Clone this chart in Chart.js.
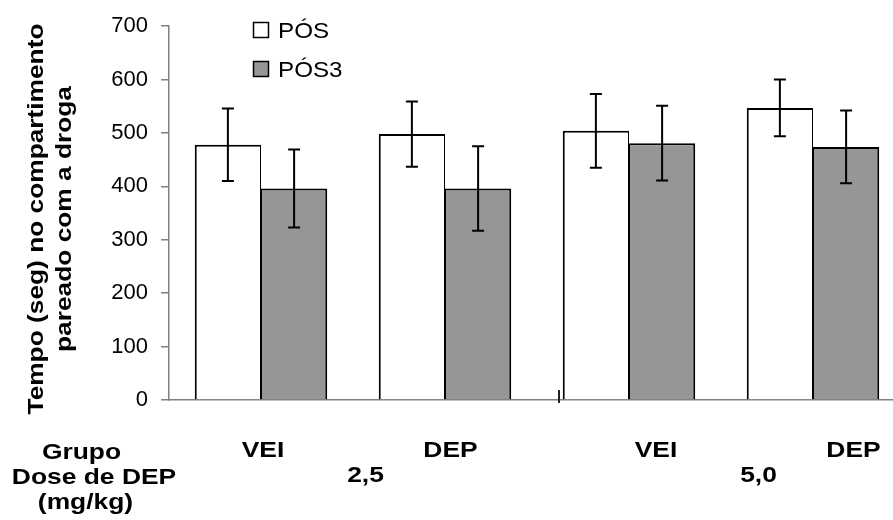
<!DOCTYPE html>
<html>
<head>
<meta charset="utf-8">
<script src="https://cdn.jsdelivr.net/npm/chart.js@4/dist/chart.umd.min.js"></script>
<style>
  html, body { margin: 0; padding: 0; background: #fff; }
  #wrap { width: 893px; height: 520px; overflow: hidden; position: relative; }
  canvas { display: block; }
</style>
</head>
<body>
<div id="wrap"><canvas id="c" width="905" height="520"></canvas></div>
<script>
// Group labels and series values
const categories = ['VEI', 'DEP', 'VEI', 'DEP'];
const doseLabels = ['2,5', '5,0'];
const posValues = [478, 498, 504, 547];
const posErrors = [68, 61, 69, 53];
const pos3Values = [396, 396, 481, 474];
const pos3Errors = [73, 79, 70, 68];
const seriesNames = ['PÓS', 'PÓS3'];
const yTicks = [0, 100, 200, 300, 400, 500, 600, 700];
const yTitleLines = ['Tempo (seg) no compartimento', 'pareado com a droga'];
const rowTitles = ['Grupo', 'Dose de DEP', '(mg/kg)'];

const FONT = '"Liberation Sans", Arial, sans-serif';
const FILLS = ['#ffffff', '#969696'];
const AXIS = '#808080';

// text drawn with a slight horizontal stretch
function wideText(ctx, text, x, y, font, sx, align) {
  ctx.save();
  ctx.font = font;
  ctx.fillStyle = '#000';
  ctx.textAlign = align || 'center';
  ctx.textBaseline = 'alphabetic';
  ctx.translate(x, y);
  ctx.scale(sx, 1);
  ctx.fillText(text, 0, 0);
  ctx.restore();
}

const errorBars = {
  id: 'errorBars',
  afterDatasetsDraw(chart) {
    const ctx = chart.ctx;
    const y = chart.scales.y;
    const errs = [posErrors, pos3Errors];
    chart.data.datasets.forEach((ds, di) => {
      const meta = chart.getDatasetMeta(di);
      meta.data.forEach((bar, i) => {
        const v = ds.data[i];
        const top = y.getPixelForValue(v + errs[di][i]);
        const bot = y.getPixelForValue(v - errs[di][i]);
        ctx.save();
        ctx.strokeStyle = '#000';
        ctx.lineWidth = 2;
        ctx.beginPath();
        ctx.moveTo(bar.x, top); ctx.lineTo(bar.x, bot);
        ctx.moveTo(bar.x - 6, top); ctx.lineTo(bar.x + 6, top);
        ctx.moveTo(bar.x - 6, bot); ctx.lineTo(bar.x + 6, bot);
        ctx.stroke();
        ctx.restore();
      });
    });
  }
};

const decorations = {
  id: 'decorations',
  afterDraw(chart) {
    const ctx = chart.ctx;
    const y = chart.scales.y;
    const bold = 'bold 22px ' + FONT;

    // divider mark between the two dose groups
    const firstBar = chart.getDatasetMeta(0).data[2];
    const dx = Math.round(firstBar.x - firstBar.width / 2 - 4);
    const base = y.getPixelForValue(0);
    ctx.save();
    ctx.strokeStyle = '#222';
    ctx.lineWidth = 2;
    ctx.beginPath();
    ctx.moveTo(dx, base - 10);
    ctx.lineTo(dx, base + 3);
    ctx.stroke();
    ctx.restore();

    // y-axis title (rotated, two lines)
    const midY = 219;
    ctx.save();
    ctx.translate(43, midY);
    ctx.rotate(-Math.PI / 2);
    wideText(ctx, yTitleLines[0], 0, 0, bold, 1.195);
    ctx.restore();
    ctx.save();
    ctx.translate(71, midY);
    ctx.rotate(-Math.PI / 2);
    wideText(ctx, yTitleLines[1], 0, 0, bold, 1.195);
    ctx.restore();

    // row titles under the axis
    wideText(ctx, rowTitles[0], 81.5, 459, bold, 1.2);
    wideText(ctx, rowTitles[1], 94, 484, bold, 1.2);
    wideText(ctx, rowTitles[2], 85.5, 509, bold, 1.2);

    // group names and doses
    const groupX = [263, 450.5, 656, 853.5];
    categories.forEach((c, i) => wideText(ctx, c, groupX[i], 457, bold, 1.2));
    const doseX = [365.5, 758.5];
    doseLabels.forEach((d, i) => wideText(ctx, d, doseX[i], 482, bold, 1.2));

    // legend
    const rows = [30, 69];
    seriesNames.forEach((name, i) => {
      ctx.save();
      ctx.fillStyle = FILLS[i];
      ctx.strokeStyle = '#000';
      ctx.lineWidth = 1.5;
      ctx.fillRect(253.5, rows[i] - 7.5, 15, 15);
      ctx.strokeRect(253.5, rows[i] - 7.5, 15, 15);
      ctx.restore();
      wideText(ctx, name, 278, rows[i] + 8, '22px ' + FONT, 1.1, 'left');
    });
  }
};

new Chart(document.getElementById('c'), {
  type: 'bar',
  data: {
    labels: categories,
    datasets: [
      { label: seriesNames[0], data: posValues, backgroundColor: FILLS[0],
        borderColor: '#000', borderWidth: { top: 2, left: 2, right: 1, bottom: 0 },
        barPercentage: 1.0, categoryPercentage: 0.72 },
      { label: seriesNames[1], data: pos3Values, backgroundColor: FILLS[1],
        borderColor: '#000', borderWidth: { top: 2, left: 1, right: 2, bottom: 0 },
        barPercentage: 1.0, categoryPercentage: 0.72 }
    ]
  },
  options: {
    responsive: false,
    animation: false,
    devicePixelRatio: 1,
    layout: { padding: { top: 25, right: 0, bottom: 0, left: 0 } },
    plugins: { legend: { display: false }, tooltip: { enabled: false } },
    scales: {
      x: {
        ticks: { display: false },
        grid: { drawOnChartArea: false, drawTicks: false },
        border: { color: AXIS, width: 1.5 },
        afterFit(s) { s.height = 120; }
      },
      y: {
        min: 0,
        max: 700,
        afterBuildTicks(s) { s.ticks = yTicks.map(v => ({ value: v })); },
        ticks: { color: '#000', font: { family: FONT, size: 22 }, padding: 13 },
        grid: { drawOnChartArea: false, tickLength: 8, color: AXIS, lineWidth: 1.5 },
        border: { color: AXIS, width: 1.5 },
        afterFit(s) { s.width = 169; }
      }
    }
  },
  plugins: [errorBars, decorations]
});
</script>
</body>
</html>
